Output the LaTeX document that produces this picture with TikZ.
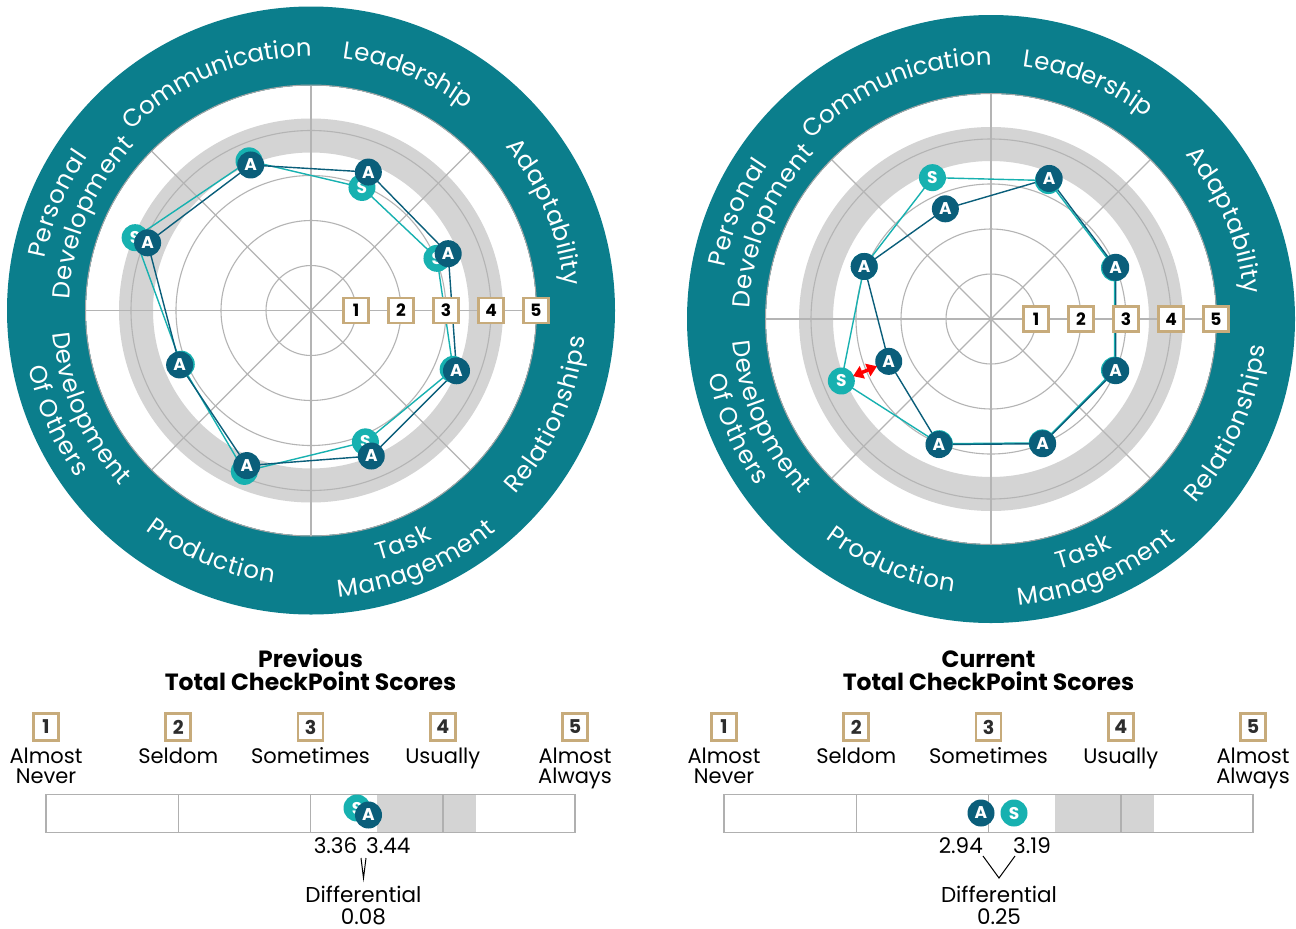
\documentclass[tikz,border=0pt]{standalone}
\usepackage{fontspec}
\setmainfont{Poppins}
\usetikzlibrary{decorations.text,arrows.meta}
\definecolor{ringc}{RGB}{11,126,140}
\definecolor{adark}{RGB}{10,94,122}
\definecolor{slight}{RGB}{23,177,176}
\definecolor{gridc}{RGB}{180,180,180}
\definecolor{bandc}{RGB}{212,212,212}
\definecolor{tanc}{RGB}{199,171,123}
\definecolor{barline}{RGB}{176,176,176}
\definecolor{numc}{RGB}{45,45,45}
\newcommand\ringfont{\color{white}\fontsize{24.5}{24.5}\selectfont}
\newcommand\ringtext[4]{%
  \path[decorate,decoration={text along path,text align=fit to path,text={|\ringfont|#4}}]
    (#1:#3) arc[start angle=#1,end angle=#2,radius=#3];}
\tikzset{
  amark/.style={circle,fill=adark,text=white,inner sep=0pt,minimum size=27pt,font=\bfseries\fontsize{17}{17}\selectfont},
  smark/.style={amark,fill=slight},
  aline/.style={draw=adark,line width=1.4pt,line join=round},
  sline/.style={draw=slight,line width=1.4pt,line join=round},
  radbox/.style={draw=tanc,line width=2.8pt,fill=white,minimum size=25pt,inner sep=0pt,font=\bfseries\fontsize{17}{17}\selectfont},
  scalebox/.style={draw=tanc,line width=2.6pt,fill=white,minimum width=25pt,minimum height=27pt,inner sep=0pt,text=numc,font=\bfseries\fontsize{19}{19}\selectfont},
  lbl/.style={anchor=base,inner sep=0pt,font=\fontsize{21}{21}\selectfont},
  titlef/.style={anchor=base,inner sep=0pt,font=\bfseries\fontsize{23.5}{23.5}\selectfont},
  numf/.style={inner sep=0pt,font=\fontsize{21.5}{21.5}\selectfont},
  gridl/.style={draw=gridc,line width=1.1pt},
  vline/.style={draw=black,line width=1pt},
}
% radar background, labels
\newcommand\radarbase{%
  \fill[ringc] (0,0) circle (304);
  \fill[white] (0,0) circle (225);
  \draw[gray!70,line width=1pt] (0,0) circle (225.5);
  \fill[bandc,even odd rule] (0,0) circle (192) (0,0) circle (158);
  \foreach \r in {45,90,135,180} \draw[gridl] (0,0) circle (\r);
  \foreach \a in {0,45,90,135} \draw[gridl] (\a:-225) -- (\a:225);
  \ringtext{135}{90}{254}{Communication}
  \ringtext{82.8}{52.7}{254}{Leadership}
  \ringtext{40.2}{5.6}{254}{Adaptability}
  \ringtext{169}{145.4}{271}{Personal}
  \ringtext{177.4}{136.8}{242}{Development}
  \ringtext{-42.1}{-5.6}{275}{Relationships}
  \ringtext{-75}{-62}{259}{Task}
  \ringtext{-84.5}{-50}{288}{Management}
  \ringtext{-127}{-97.7}{275}{Production}
  \ringtext{-175}{-137.4}{259}{Development}
  \ringtext{-168.6}{-144.5}{288}{Of Others}
}
\newcommand\radarboxes[1]{%
  \foreach \k in {1,...,5} \node[radbox] (#1box\k) at (45*\k,0) {\k};
}
% #1 prefix, #2 x0, #3 title
\newcommand\scorebase[3]{%
  \node[titlef] (#1ta) at (#2+264.5,-667) {#3};
  \node[titlef] (#1tb) at (#2+264.5,-690) {Total CheckPoint Scores};
  \foreach \k in {1,...,5} \node[scalebox] (#1sb\k) at ({#2+132.25*(\k-1)},-727) {\k};
  \node[lbl] (#1la) at (#2,-763) {Almost};
  \node[lbl] (#1lb) at (#2,-783) {Never};
  \node[lbl] (#1lc) at (#2+132.25,-763) {Seldom};
  \node[lbl] (#1ld) at (#2+264.5,-763) {Sometimes};
  \node[lbl] (#1le) at (#2+396.75,-763) {Usually};
  \node[lbl] (#1lf) at (#2+529,-763) {Almost};
  \node[lbl] (#1lg) at (#2+529,-783) {Always};
  \fill[bandc] ({#2+132.25*2.5},-795) rectangle ({#2+132.25*3.25},-832);
  \foreach \k in {1,2,3} \draw[draw=barline,line width=1.5pt] ({#2+132.25*\k},-795) -- ({#2+132.25*\k},-832);
  \draw[draw=barline,line width=1.8pt] (#2,-794.5) rectangle (#2+529,-832.5);
}
\begin{document}
\begin{tikzpicture}[x=1pt,y=1pt]
\useasboundingbox (0,0) rectangle (1296,-929);
\fill[white] (0,0) rectangle (1296,-929);
% ---------------- left radar (previous)
\begin{scope}[shift={(311,-310.5)}]
  \radarbase
  \foreach \v [count=\i] in {3.5,3.33,3.3,3.5,3.5,3.73,3.16,3.93}
    \coordinate (LA\i) at ({112.5-45*(\i-1)}:{45*\v});
  \foreach \v [count=\i] in {3.6,2.96,3.03,3.42,3.16,3.87,3.12,4.23}
    \coordinate (LS\i) at ({112.5-45*(\i-1)}:{45*\v});
  \draw[sline] (LS1)--(LS2)--(LS3)--(LS4)--(LS5)--(LS6)--(LS7)--(LS8)--cycle;
  \draw[aline] (LA1)--(LA2)--(LA3)--(LA4)--(LA5)--(LA6)--(LA7)--(LA8)--cycle;
  \radarboxes{L}
  \foreach \i in {1,...,8} \node[smark] (LSm\i) at (LS\i) {S};
  \foreach \i in {1,...,8} \node[amark] (LAm\i) at (LA\i) {A};
\end{scope}
% ---------------- right radar (current)
\begin{scope}[shift={(991,-319)}]
  \radarbase
  \foreach \v [count=\i] in {2.65,3.38,3.0,3.0,3.0,3.02,2.46,3.05}
    \coordinate (RA\i) at ({112.5-45*(\i-1)}:{45*\v});
  \foreach \v [count=\i] in {3.4,3.33,2.97,2.97,2.98,3.0,3.6,3.05}
    \coordinate (RS\i) at ({112.5-45*(\i-1)}:{45*\v});
  \draw[sline] (RS1)--(RS2)--(RS3)--(RS4)--(RS5)--(RS6)--(RS7)--(RS8)--cycle;
  \draw[aline] (RA1)--(RA2)--(RA3)--(RA4)--(RA5)--(RA6)--(RA7)--(RA8)--cycle;
  \radarboxes{R}
  \foreach \i in {1,...,8} \node[smark] (RSm\i) at (RS\i) {S};
  \foreach \i in {1,...,8} \node[amark] (RAm\i) at (RA\i) {A};
  \draw[red,line width=3.5pt,{Triangle[length=10pt,width=13pt]}-{Triangle[length=10pt,width=13pt]},shorten <=-1pt,shorten >=-1pt] (RSm7) -- (RAm7);
\end{scope}
% ---------------- previous scores
\scorebase{P}{46}{Previous}
\node[smark] (PS) at (357,-808) {S};
\node[amark] (PA) at (368.5,-815) {A};
\node[numf,anchor=base east] (Plo) at (357.5,-853) {3.36};
\node[numf,anchor=base west] (Phi) at (366,-853) {3.44};
\coordinate (Pv1) at (361,-858);
\coordinate (Pv2) at (363.5,-878);
\coordinate (Pv3) at (366,-858);
\draw[vline] (Pv1) -- (Pv2) -- (Pv3);
\node[numf,anchor=base] (Pdif) at (363.5,-902) {Differential};
\node[numf,anchor=base] (Pval) at (363.5,-924.5) {0.08};
% ---------------- current scores
\scorebase{C}{724}{Current}
\node[amark] (CA) at (981,-813) {A};
\node[smark] (CS) at (1014,-813) {S};
\node[numf,anchor=base east] (Clo) at (983,-853) {2.94};
\node[numf,anchor=base west] (Chi) at (1013,-853) {3.19};
\coordinate (Cv1) at (983,-856);
\coordinate (Cv2) at (999,-878);
\coordinate (Cv3) at (1015,-856);
\draw[vline] (Cv1) -- (Cv2) -- (Cv3);
\node[numf,anchor=base] (Cdif) at (999,-902) {Differential};
\node[numf,anchor=base] (Cval) at (999,-924.5) {0.25};
\end{tikzpicture}
\end{document}
